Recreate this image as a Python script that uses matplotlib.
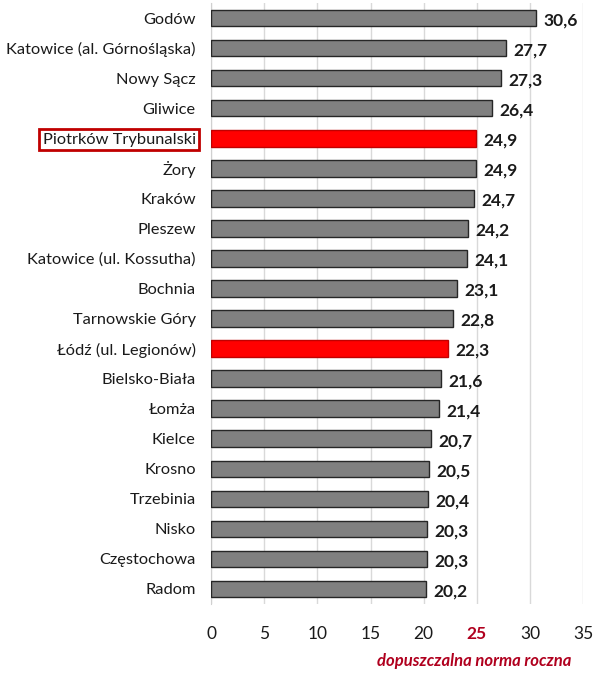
import matplotlib
matplotlib.use("Agg")
import matplotlib.pyplot as plt

stations = ["Godów", "Katowice (al. Górnośląska)", "Nowy Sącz", "Gliwice",
            "Piotrków Trybunalski", "Żory", "Kraków", "Pleszew",
            "Katowice (ul. Kossutha)", "Bochnia", "Tarnowskie Góry",
            "Łódź (ul. Legionów)", "Bielsko-Biała", "Łomża", "Kielce",
            "Krosno", "Trzebinia", "Nisko", "Częstochowa", "Radom"]
values = [30.6, 27.7, 27.3, 26.4, 24.9, 24.9, 24.7, 24.2, 24.1, 23.1,
          22.8, 22.3, 21.6, 21.4, 20.7, 20.5, 20.4, 20.3, 20.3, 20.2]
highlighted = ["Piotrków Trybunalski", "Łódź (ul. Legionów)"]
xticks = [0, 5, 10, 15, 20, 25, 30, 35]
norm_value = 25
norm_label = "dopuszczalna norma roczna"

plt.rcParams['font.family'] = ['Lato', 'Open Sans', 'DejaVu Sans']

fig = plt.figure(figsize=(6.03, 6.73), dpi=100)
ax = fig.add_axes([0.35, 0.1025, 0.617, 0.893])

ypos = list(range(len(stations)))
colors = ["#ff0000" if s in highlighted else "#808080" for s in stations]
edges = ["#c00000" if s in highlighted else "#262626" for s in stations]
bars = ax.barh(ypos, values, height=0.55, color=colors, edgecolor=edges, linewidth=1.0, zorder=3)
ax.set_ylim(len(stations) - 0.5, -0.5)
ax.set_xlim(0, 35)
ax.set_yticks(ypos)
ax.set_yticklabels(stations, fontsize=11.8, color="#1a1a1a")
ax.set_xticks(xticks)
ax.set_xticklabels([str(t) for t in xticks], fontsize=12.5, color="#1a1a1a")
ax.tick_params(axis='y', length=0, pad=11)
ax.tick_params(axis='x', length=0, pad=16)
for lbl in ax.get_xticklabels():
    if lbl.get_text() == str(norm_value):
        lbl.set_color("#b0001e")
        lbl.set_fontweight("bold")
for lbl in ax.get_yticklabels():
    if lbl.get_text() == "Piotrków Trybunalski":
        lbl.set_bbox(dict(facecolor="none", edgecolor="#c00000", linewidth=2, pad=2.5))

ax.grid(axis='x', color="#d9d9d9", linewidth=1, zorder=0)
for s in ["top", "right", "bottom"]:
    ax.spines[s].set_visible(False)
ax.spines["left"].set_color("#d0d0d0")

for y, v in zip(ypos, values):
    ax.text(v + 0.7, y + 0.08, f"{v:.1f}".replace(".", ","), va="center", ha="left",
            fontsize=12.5, fontweight="bold", color="#1a1a1a")

ax.text(24.8, -0.095, norm_label, transform=ax.get_xaxis_transform(), ha="center", va="center",
        fontsize=12, fontstyle="italic", fontweight="bold", color="#b0001e")

fig.savefig("out.png", dpi=100)
